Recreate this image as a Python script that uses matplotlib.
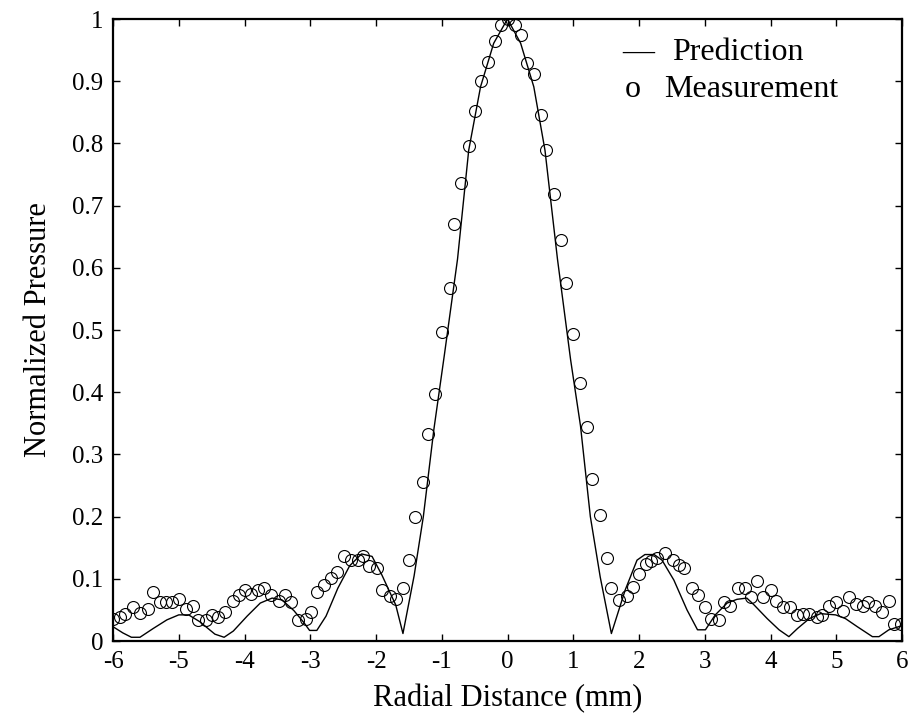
import matplotlib
matplotlib.use("Agg")
import matplotlib.pyplot as plt

plt.rcParams['font.family'] = ['Liberation Serif', 'DejaVu Serif']
plt.rcParams['axes.unicode_minus'] = False

# Prediction (solid line) vertices
pred_x = [-6.00, -5.85, -5.72, -5.59, -5.39, -5.18, -5.00, -4.85, -4.68, -4.45,
          -4.31, -4.17, -3.96, -3.76, -3.58, -3.43, -3.25, -3.10, -3.01, -2.90,
          -2.76, -2.58, -2.40, -2.22, -2.06, -1.91, -1.70, -1.59,
          -1.42, -1.28, -1.12, -0.96, -0.76, -0.59, -0.41, -0.21, 0.00,
          0.20, 0.40, 0.57, 0.76, 0.96, 1.11, 1.26, 1.41, 1.58,
          1.79, 1.97, 2.09, 2.23, 2.35, 2.53, 2.73, 2.89, 3.01, 3.16,
          3.34, 3.49, 3.64, 3.75, 3.95, 4.13, 4.28, 4.41, 4.59, 4.76,
          4.99, 5.14, 5.32, 5.55, 5.65, 5.80, 5.98]
pred_y = [0.023, 0.013, 0.006, 0.006, 0.020, 0.034, 0.042, 0.042, 0.031, 0.011,
          0.006, 0.016, 0.040, 0.061, 0.069, 0.066, 0.049, 0.030, 0.017, 0.017,
          0.040, 0.085, 0.121, 0.140, 0.136, 0.106, 0.058, 0.012,
          0.105, 0.200, 0.340, 0.460, 0.614, 0.789, 0.891, 0.961, 1.000,
          0.961, 0.891, 0.789, 0.614, 0.452, 0.346, 0.200, 0.103, 0.012,
          0.082, 0.130, 0.139, 0.139, 0.130, 0.098, 0.050, 0.018, 0.018, 0.042,
          0.061, 0.067, 0.069, 0.058, 0.036, 0.018, 0.007, 0.020, 0.036, 0.044,
          0.042, 0.036, 0.023, 0.007, 0.007, 0.018, 0.024]

# Measurement (open circles)
meas_x = [-6.00, -5.89, -5.81, -5.70, -5.59, -5.47, -5.39, -5.29, -5.19, -5.10,
          -4.99, -4.89, -4.78, -4.70, -4.59, -4.49, -4.41, -4.30, -4.18, -4.08,
          -4.00, -3.90, -3.79, -3.70, -3.60, -3.48, -3.38, -3.29, -3.19, -3.07,
          -2.99, -2.90, -2.79, -2.69, -2.60, -2.49, -2.38, -2.28, -2.20, -2.10,
          -1.99, -1.91, -1.79, -1.69, -1.59, -1.50, -1.40, -1.29, -1.21, -1.11,
          -0.99, -0.88, -0.81, -0.70, -0.59, -0.50, -0.40, -0.30, -0.19, -0.10,
          0.00, 0.11, 0.20, 0.30, 0.40, 0.51, 0.59, 0.70, 0.81, 0.89,
          0.99, 1.10, 1.21, 1.29, 1.40, 1.52, 1.58, 1.70, 1.81, 1.91,
          2.00, 2.10, 2.19, 2.28, 2.39, 2.51, 2.61, 2.68, 2.80, 2.89,
          3.00, 3.10, 3.21, 3.30, 3.39, 3.50, 3.61, 3.71, 3.79, 3.89,
          4.00, 4.09, 4.19, 4.30, 4.40, 4.49, 4.59, 4.70, 4.79, 4.89,
          5.00, 5.11, 5.19, 5.30, 5.40, 5.49, 5.59, 5.70, 5.80, 5.88, 5.99]
meas_y = [0.036, 0.039, 0.043, 0.055, 0.045, 0.051, 0.079, 0.062, 0.062, 0.063,
          0.068, 0.051, 0.056, 0.034, 0.033, 0.042, 0.039, 0.047, 0.065, 0.074,
          0.082, 0.075, 0.082, 0.085, 0.074, 0.065, 0.074, 0.062, 0.034, 0.036,
          0.047, 0.079, 0.090, 0.101, 0.111, 0.136, 0.130, 0.130, 0.136, 0.121,
          0.118, 0.082, 0.072, 0.067, 0.086, 0.130, 0.200, 0.255, 0.332, 0.397,
          0.496, 0.568, 0.670, 0.736, 0.796, 0.852, 0.900, 0.931, 0.965, 0.991,
          1.000, 0.991, 0.974, 0.930, 0.912, 0.846, 0.789, 0.719, 0.645, 0.576,
          0.494, 0.414, 0.344, 0.260, 0.202, 0.133, 0.086, 0.066, 0.073, 0.087,
          0.107, 0.124, 0.129, 0.133, 0.142, 0.130, 0.122, 0.118, 0.085, 0.074,
          0.054, 0.036, 0.034, 0.063, 0.056, 0.085, 0.085, 0.071, 0.096, 0.071,
          0.082, 0.065, 0.055, 0.055, 0.042, 0.044, 0.044, 0.039, 0.042, 0.056,
          0.063, 0.048, 0.070, 0.059, 0.056, 0.063, 0.056, 0.046, 0.065, 0.027, 0.027]

x_ticks = [-6, -5, -4, -3, -2, -1, 0, 1, 2, 3, 4, 5, 6]
x_tick_labels = ['-6', '-5', '-4', '-3', '-2', '-1', '0', '1', '2', '3', '4', '5', '6']
y_ticks = [0, 0.1, 0.2, 0.3, 0.4, 0.5, 0.6, 0.7, 0.8, 0.9, 1.0]
y_tick_labels = ['0', '0.1', '0.2', '0.3', '0.4', '0.5', '0.6', '0.7', '0.8', '0.9', '1']

fig = plt.figure(figsize=(9.13, 7.21), dpi=100)
ax = fig.add_axes([113/913, 1 - 641/721, 789/913, 622/721])

ax.plot(pred_x, pred_y, color='black', linewidth=1.0, zorder=2)
ax.plot(meas_x, meas_y, linestyle='none', marker='o', markersize=8.6,
        markerfacecolor='none', markeredgecolor='black', markeredgewidth=0.8, zorder=3)

ax.set_xlim(-6, 6)
ax.set_ylim(0, 1)
ax.set_xticks(x_ticks)
ax.set_xticklabels(x_tick_labels)
ax.set_yticks(y_ticks)
ax.set_yticklabels(y_tick_labels)
ax.tick_params(direction='in', top=True, right=True, length=5, width=1,
               labelsize=18, pad=7)
for s in ax.spines.values():
    s.set_linewidth(1.6)

ax.set_xlabel('Radial Distance (mm)', fontsize=22, labelpad=8)
ax.set_ylabel('Normalized Pressure', fontsize=22, labelpad=14)

# Text legend
ax.text(0.646, 0.934, '\u2014', transform=ax.transAxes, fontsize=23, va='baseline', ha='left')
ax.text(0.7085, 0.934, 'Prediction', transform=ax.transAxes, fontsize=23, va='baseline', ha='left')
ax.text(0.649, 0.874, 'o', transform=ax.transAxes, fontsize=23, va='baseline', ha='left')
ax.text(0.698, 0.874, 'Measurement', transform=ax.transAxes, fontsize=23, va='baseline', ha='left')

fig.savefig('out.png', dpi=100)
